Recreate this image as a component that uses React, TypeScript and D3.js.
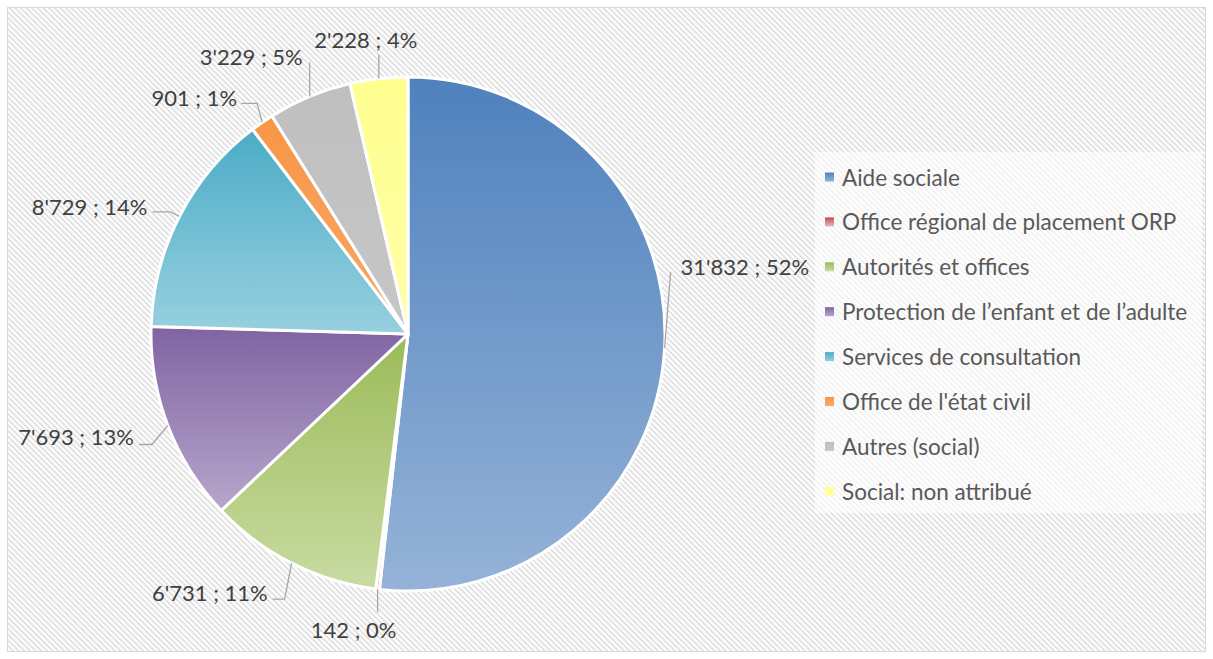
import { pie, arc } from "d3";

const categories = [
  "Aide sociale",
  "Office régional de placement ORP",
  "Autorités et offices",
  "Protection de l’enfant et de l’adulte",
  "Services de consultation",
  "Office de l'état civil",
  "Autres (social)",
  "Social: non attribué",
];
const values = [31832, 142, 6731, 7693, 8729, 901, 3229, 2228];
const valueLabels = ["31'832", "142", "6'731", "7'693", "8'729", "901", "3'229", "2'228"];
const percentLabels = ["52%", "0%", "11%", "13%", "14%", "1%", "5%", "4%"];

// gradient top / bottom colours per slice
const colorsTop = ["#4F81BD", "#C0504D", "#9BBB59", "#8064A2", "#4BACC6", "#F79646", "#BFBFBF", "#FFFF8F"];
const colorsBottom = ["#95B3D7", "#E6B9B8", "#C9DBA2", "#B6A6CB", "#98D0DF", "#F9A86A", "#C6C6C6", "#FFFFA8"];

// leader layout: elbow / end offsets from the slice edge, then text offset from the end
const leaders = [
  { pts: [[6, -76]], text: [10, -6], anchor: "start" },
  { pts: [[0, 23]], text: [-24, 17], anchor: "middle" },
  { pts: [[-7, 36], [-19, 36]], text: [-5, -7], anchor: "end" },
  { pts: [[-16, 19], [-29, 19]], text: [-5, -8], anchor: "end" },
  { pts: [[-9, -4.5], [-27, -4.5]], text: [-5, -5], anchor: "end" },
  { pts: [[-5, -19], [-21, -19]], text: [-4, -6], anchor: "end" },
  { pts: [[0, -34]], text: [-7, -6], anchor: "end" },
  { pts: [[0, -24]], text: [-13, -15], anchor: "middle" },
];

const W = 1213;
const H = 659;
const cx = 408;
const cy = 334;
const R = 257;
const font = "Lato, 'Open Sans', sans-serif";

export default function App() {
  const slices = pie<number>().sort(null).value((d) => d)(values);
  const arcGen = arc<any>().innerRadius(0).outerRadius(R);

  return (
    <svg width={W} height={H} style={{ position: "absolute", left: 0, top: 0 }}>
      <defs>
        <pattern id="hatch" width={4} height={4} patternUnits="userSpaceOnUse" patternTransform="rotate(-45)">
          <rect width={4} height={4} fill="#ffffff" />
          <rect width={2} height={4} fill="#e2e2e2" />
        </pattern>
        {colorsTop.map((c, i) => (
          <linearGradient key={i} id={`g${i}`} x1="0" y1="0" x2="0" y2="1">
            <stop offset="0" stopColor={c} />
            <stop offset="1" stopColor={colorsBottom[i]} />
          </linearGradient>
        ))}
      </defs>
      <rect x={0} y={0} width={W} height={H} fill="#fff" />
      <rect x={7.5} y={7.5} width={W - 15} height={H - 15} fill="url(#hatch)" stroke="#d9d9d9" strokeWidth={1} />

      <g transform={`translate(${cx},${cy})`}>
        {slices.map((s, i) => (
          <path key={i} d={arcGen(s) as string} fill={`url(#g${i})`} stroke="#ffffff" strokeWidth={3} strokeLinejoin="round" />
        ))}
        {slices.map((s, i) => {
          const mid = (s.startAngle + s.endAngle) / 2;
          const sx = R * Math.sin(mid);
          const sy = -R * Math.cos(mid);
          const lay = leaders[i];
          const pts = [[sx, sy], ...lay.pts.map(([dx, dy]) => [sx + dx, sy + dy])];
          const end = pts[pts.length - 1];
          return (
            <g key={`l${i}`}>
              <polyline
                points={pts.map((p) => p.join(",")).join(" ")}
                fill="none"
                stroke="#a6a6a6"
                strokeWidth={1.3}
              />
              <text
                x={end[0] + lay.text[0]}
                y={end[1] + lay.text[1]}
                textAnchor={lay.anchor as any}
                dominantBaseline="central"
                fontFamily={font}
                fontSize={22}
                fill="#404040"
              >
                {`${valueLabels[i]} ; ${percentLabels[i]}`}
              </text>
            </g>
          );
        })}
      </g>

      <rect x={815} y={152} width={387} height={361} fill="#ffffff" opacity={0.6} />
      {categories.map((c, i) => {
        const y = 177 + i * 44.9;
        return (
          <g key={`lg${i}`}>
            <rect x={825} y={y - 4.5} width={9} height={9} fill={`url(#g${i})`} />
            <text x={842} y={y} dominantBaseline="central" fontFamily={font} fontSize={22.5} fill="#595959">
              {c}
            </text>
          </g>
        );
      })}
    </svg>
  );
}
